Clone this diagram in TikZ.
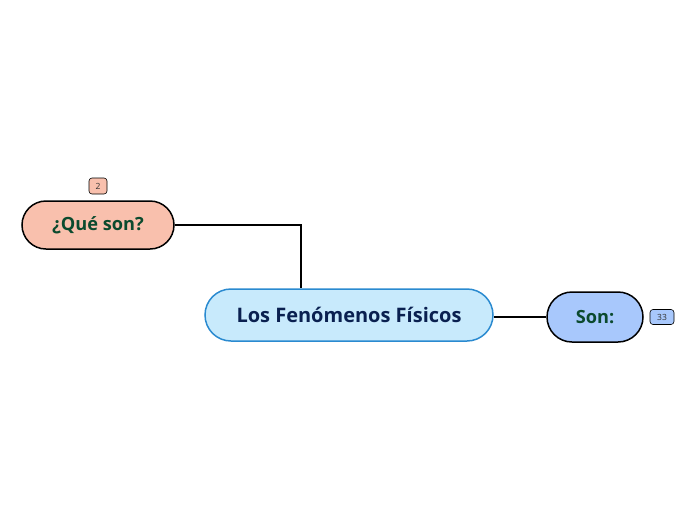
\documentclass[tikz,border=0pt]{standalone}
\usepackage{fontspec}
\setmainfont{Open Sans}
\definecolor{mainfill}{HTML}{C8EAFC}
\definecolor{mainborder}{HTML}{2A8AD0}
\definecolor{maintext}{HTML}{0A2050}
\definecolor{leftfill}{HTML}{F9C0AD}
\definecolor{rightfill}{HTML}{A8C8FC}
\definecolor{greentext}{HTML}{0B4A2E}
\tikzset{
  topic/.style={draw=black, line width=1.5pt, rounded corners=24pt, inner sep=0pt, text=greentext, font=\bfseries\fontsize{18.2}{20}\selectfont},
  badge/.style={draw=black, line width=0.6pt, rounded corners=3pt, inner sep=0pt, font=\fontsize{8.5}{9}\selectfont, text=black!80},
  link/.style={line width=2.8pt, black}
}
\begin{document}
\begin{tikzpicture}[x=1pt,y=-1pt]
\useasboundingbox (0,0) rectangle (696,520);
\node[topic, draw=mainborder, fill=mainfill, text=maintext, minimum width=288pt, minimum height=52pt, rounded corners=26pt, font=\bfseries\fontsize{20}{22}\selectfont] (main) at (349,315) {Los Fenómenos Físicos};
\node[topic, fill=leftfill, minimum width=152pt, minimum height=48pt] (que) at (98,225) {¿Qué son?};
\node[topic, fill=rightfill, minimum width=96pt, minimum height=50pt, rounded corners=25pt] (son) at (595,317) {Son:};
\node[badge, fill=leftfill, minimum width=18pt, minimum height=16pt] (b2) at (98,186) {2};
\node[badge, fill=rightfill, minimum width=24pt, minimum height=15pt] (b33) at (662,317) {33};
\draw[link] (que.east) -- (301,225) -- (main.north -| 301,0);
\draw[link] (main.east |- son.west) -- (son.west);
\end{tikzpicture}
\end{document}
